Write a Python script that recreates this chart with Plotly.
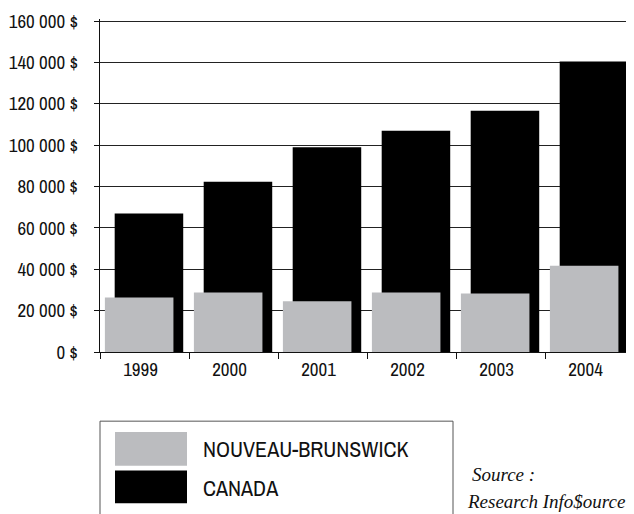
import plotly.graph_objects as go

years = ["1999", "2000", "2001", "2002", "2003", "2004"]
nouveau_brunswick = [26400, 28800, 24500, 28800, 28300, 41700]
canada = [67000, 82300, 99000, 107000, 116700, 140500]
ytick_values = [0, 20000, 40000, 60000, 80000, 100000, 120000, 140000, 160000]
ytick_labels = ["0 $", "20 000 $", "40 000 $", "60 000 $", "80 000 $",
                "100 000 $", "120 000 $", "140 000 $", "160 000 $"]
legend_labels = ["NOUVEAU-BRUNSWICK", "CANADA"]
source_lines = ["Source :", "Research Info$ource"]

OFF = 8  # page body margin
W, H = 634 - OFF, 514 - OFF
Y_MAX = 161000
ML, MR, MB = 100 - OFF, 0, 162
PH = round(335 * Y_MAX / 160000)
MT = H - MB - PH
PW = W - ML - MR


def px(x):
    return (x - OFF - ML) / PW


def py(y):
    return (H - MB - (y - OFF)) / PH


FONT = "Archivo Narrow, Roboto Condensed, DejaVu Sans Condensed, sans-serif"
SERIF = "Liberation Serif, DejaVu Serif, serif"
GRAY = "#bbbcbf"
INK = "#111111"

fig = go.Figure()
fig.add_trace(go.Bar(x=years, y=canada, name=legend_labels[1],
                     marker=dict(color="#000000", line=dict(width=0)),
                     width=0.77, offset=-0.335))
fig.add_trace(go.Bar(x=years, y=nouveau_brunswick, name=legend_labels[0],
                     marker=dict(color=GRAY, line=dict(width=0)),
                     width=0.77, offset=-0.445))

fig.update_layout(
    width=W, height=H,
    margin=dict(l=ML, r=MR, t=MT, b=MB, pad=0),
    paper_bgcolor="white", plot_bgcolor="white",
    barmode="overlay", showlegend=False,
    font=dict(family=FONT, size=18, color=INK),
)
fig.update_xaxes(type="category", range=[-0.5, 5.5],
                 showline=True, linecolor=INK, linewidth=1.3,
                 ticks="outside", tickson="boundaries", ticklen=6,
                 tickcolor=INK, tickwidth=1.3, ticklabelshift=-4,
                 showgrid=False, tickfont=dict(size=19, family=FONT, color=INK))
fig.update_yaxes(range=[0, Y_MAX], tickvals=ytick_values, ticktext=ytick_labels,
                 showline=True, linecolor=INK, linewidth=1.3,
                 ticks="outside", ticklen=5, tickcolor=INK, tickwidth=1.3,
                 showgrid=True, gridcolor="#222222", gridwidth=1.2,
                 zeroline=False, ticklabelstandoff=12, ticklabeloverflow="allow",
                 tickfont=dict(size=19, family=FONT, color=INK))

shapes = [
    dict(type="rect", xref="paper", yref="paper",
         x0=px(100), x1=px(453), y0=py(422), y1=py(540),
         line=dict(color="#555555", width=1), fillcolor="rgba(0,0,0,0)"),
    dict(type="rect", xref="paper", yref="paper",
         x0=px(115), x1=px(187), y0=py(433), y1=py(467),
         line=dict(width=0), fillcolor=GRAY),
    dict(type="rect", xref="paper", yref="paper",
         x0=px(115), x1=px(187), y0=py(472), y1=py(505),
         line=dict(width=0), fillcolor="#000000"),
]
fig.update_layout(shapes=shapes)

fig.add_annotation(xref="paper", yref="paper", x=px(201), y=py(450),
                   text=legend_labels[0], showarrow=False, xanchor="left",
                   yanchor="middle", font=dict(family=FONT, size=22, color=INK))
fig.add_annotation(xref="paper", yref="paper", x=px(201), y=py(490),
                   text=legend_labels[1], showarrow=False, xanchor="left",
                   yanchor="middle", font=dict(family=FONT, size=22, color=INK))
fig.add_annotation(xref="paper", yref="paper", x=px(470), y=py(476),
                   text="<i>" + source_lines[0] + "</i>", showarrow=False,
                   xanchor="left", yanchor="middle",
                   font=dict(family=SERIF, size=19, color=INK))
fig.add_annotation(xref="paper", yref="paper", x=px(465), y=py(503),
                   text="<i>" + source_lines[1] + "</i>", showarrow=False,
                   xanchor="left", yanchor="middle",
                   font=dict(family=SERIF, size=19, color=INK))

fig.write_html("out.html")
